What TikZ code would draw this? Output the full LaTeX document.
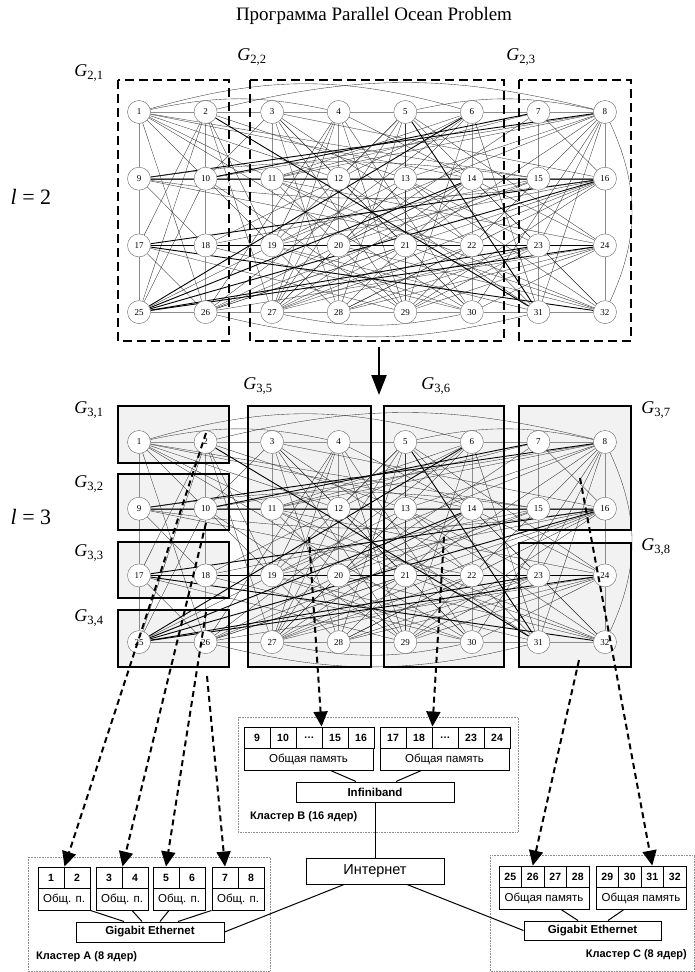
\documentclass[tikz,border=0pt]{standalone}
\usepackage{fontspec}
\setmainfont{Liberation Serif}
\setsansfont{Liberation Sans}
\usetikzlibrary{positioning, arrows.meta, calc}

\pgfdeclarelayer{boxfill}
\pgfdeclarelayer{edges}
\pgfsetlayers{boxfill,edges,main}

\tikzset{
    vtx/.style={circle, draw=black!60, fill=white, thin, minimum size=23pt, inner sep=0pt, font=\fontsize{9}{10}\selectfont},
    gridedge/.style={draw=black!45, line width=0.5pt},
    edge/.style={draw=black!80, line width=0.35pt},
    heavyedge/.style={draw=black, line width=0.9pt},
    partbox/.style={line width=1.4pt, dash pattern=on 9pt off 5pt},
    subbox/.style={draw, line width=1.5pt},
    glabel/.style={font=\fontsize{18}{21}\selectfont\itshape, inner sep=0pt},
    levellabel/.style={font=\fontsize{22}{26}\selectfont, inner sep=0pt},
    maparrow/.style={line width=2pt, dash pattern=on 6pt off 4pt, -{Triangle[length=15pt,width=14pt]}},
    cell/.style={draw, line width=0.9pt, minimum width=26pt, minimum height=21pt, inner sep=0pt, font=\sffamily\bfseries\fontsize{10.5}{12}\selectfont},
    mem/.style={draw, line width=0.9pt, minimum height=22pt, inner sep=0pt, font=\sffamily\fontsize{11.5}{13}\selectfont},
    netbox/.style={draw, line width=1pt, inner sep=0pt, font=\sffamily\bfseries\fontsize{11.5}{13}\selectfont},
    netline/.style={line width=1pt},
    cluster/.style={draw=black!45, densely dotted, line width=0.6pt},
    clabel/.style={font=\sffamily\bfseries\fontsize{11}{12}\selectfont, inner sep=0pt},
}

% long edges of the ocean grid
\newcommand\plainedges{1/12, 1/14, 1/21, 1/26, 1/28, 1/30, 1/15,
    2/17, 2/25, 2/27, 2/19, 2/13,
    3/10, 3/29, 3/28, 3/30, 3/21, 3/22, 3/16,
    4/19, 4/26, 4/29, 4/30, 4/27, 4/24,
    5/27, 5/28, 5/19, 5/29, 5/32, 5/24, 5/12,
    6/26, 6/27, 6/29, 6/31, 6/11, 6/18,
    7/11, 7/16, 7/20,
    8/10, 8/11, 8/13, 8/15, 8/23, 8/31, 8/19,
    9/18, 9/14, 9/22,
    10/25, 10/15, 10/29,
    11/24, 11/29, 11/32,
    12/27, 12/30, 12/16, 12/31,
    13/25, 13/27, 13/32, 13/23,
    14/27, 14/26, 14/32, 14/28,
    15/26, 15/20, 15/29,
    16/19, 16/28, 16/26, 16/27,
    17/26, 17/29, 17/23,
    18/15, 18/30, 18/22,
    19/24, 19/30, 19/31,
    20/32, 20/14,
    21/26, 21/32, 21/8, 21/27,
    22/27, 22/28,
    23/27, 23/29,
    24/26, 24/28, 24/29, 24/30,
    28/23, 29/16, 30/8, 31/13}
\newcommand\heavyedges{9/8, 10/7, 17/16, 25/24, 25/14, 25/23, 2/31, 17/32, 5/31, 6/25, 25/16, 17/24}

% #1 = name prefix, #2 = y of the first row
\newcommand\oceangraph[2]{%
    \foreach \n in {1,...,32} {
        \pgfmathtruncatemacro\gcol{mod(\n-1,8)}
        \pgfmathtruncatemacro\grow{(\n-1)/8}
        \node[vtx] (#1\n) at ({139+66.57*\gcol},{#2+66.7*\grow}) {\n};
    }
    \begin{pgfonlayer}{edges}
        \foreach \n in {1,...,32} {
            \pgfmathtruncatemacro\gcol{mod(\n-1,8)}
            \pgfmathtruncatemacro\nright{\n+1}
            \pgfmathtruncatemacro\ndown{\n+8}
            \ifnum\gcol<7 \draw[gridedge] (#1\n) -- (#1\nright);\fi
            \ifnum\n<25 \draw[gridedge] (#1\n) -- (#1\ndown);\fi
        }
        \foreach \u/\v in \plainedges {\draw[edge] (#1\u) -- (#1\v);}
        \foreach \u/\v in \heavyedges {\draw[heavyedge] (#1\u) -- (#1\v);}
        \draw[edge] (#11) to[bend left=16] (#16);
        \draw[edge] (#11) to[bend left=12] (#14);
        \draw[edge] (#12) to[bend left=14] (#18);
        \draw[edge] (#15) to[bend left=12] (#18);
        \draw[edge] (#18) to[bend left=25] (#132);
        \draw[edge] (#126) to[bend right=14] (#131);
        \draw[edge] (#127) to[bend right=12] (#130);
        \draw[edge] (#19) to[bend left=8] (#115);
        \draw[edge] (#19) to[bend right=8] (#116);
    \end{pgfonlayer}
}

\begin{document}
\begin{tikzpicture}[x=1pt, y=-1pt]
    \useasboundingbox (0,0) rectangle (695,972);

    \node[font=\fontsize{19}{22}\selectfont] (title) at (374,16) {Программа Parallel Ocean Problem};

    % level l = 2
    \node[levellabel] (lev2) at (31,197) {\textit{l} = 2};
    \oceangraph{a}{112}
    \draw[partbox] (118,80) rectangle (229,341);
    \draw[partbox] (250,80) rectangle (504,341);
    \draw[partbox] (519,80) rectangle (631,341);
    \node[glabel] (g21) at (89,73) {G\textsubscript{\upshape 2,1}};
    \node[glabel] (g22) at (252,57) {G\textsubscript{\upshape 2,2}};
    \node[glabel] (g23) at (521,57) {G\textsubscript{\upshape 2,3}};

    \coordinate (down1) at (379,347);
    \coordinate (down2) at (379,395);
    \draw[line width=2.2pt, -{Triangle[length=20pt,width=15pt]}] (down1) -- (down2);

    % level l = 3
    \node[levellabel] (lev3) at (31,517) {\textit{l} = 3};
    \foreach \xa/\ya/\xb/\yb in {118/406/229/463, 118/474/229/530, 118/542/229/598, 118/610/229/667,
        248/406/371/667, 384/406/504/667, 519/406/631/530, 519/543/631/667} {
        \begin{pgfonlayer}{boxfill}
            \fill[black!5] (\xa,\ya) rectangle (\xb,\yb);
        \end{pgfonlayer}
    }
    \oceangraph{b}{442}
    \foreach \xa/\ya/\xb/\yb in {118/406/229/463, 118/474/229/530, 118/542/229/598, 118/610/229/667,
        248/406/371/667, 384/406/504/667, 519/406/631/530, 519/543/631/667}
        \draw[subbox] (\xa,\ya) rectangle (\xb,\yb);
    \node[glabel] (g31) at (89,410) {G\textsubscript{\upshape 3,1}};
    \node[glabel] (g32) at (89,484) {G\textsubscript{\upshape 3,2}};
    \node[glabel] (g33) at (89,553) {G\textsubscript{\upshape 3,3}};
    \node[glabel] (g34) at (89,618) {G\textsubscript{\upshape 3,4}};
    \node[glabel] (g35) at (258,386) {G\textsubscript{\upshape 3,5}};
    \node[glabel] (g36) at (436,386) {G\textsubscript{\upshape 3,6}};
    \node[glabel] (g37) at (656,410) {G\textsubscript{\upshape 3,7}};
    \node[glabel] (g38) at (656,547) {G\textsubscript{\upshape 3,8}};

    % cluster B
    \draw[cluster] (238,717) rectangle (518,832);
    \foreach \t [count=\i] in {9,10,\ldots,15,16}
        \node[cell] (bl\i) at ({257+26*(\i-1)},737.5) {\t};
    \foreach \t [count=\i] in {17,18,\ldots,23,24}
        \node[cell] (br\i) at ({393+26*(\i-1)},737.5) {\t};
    \node[mem, minimum width=129pt] (blm) at (308.5,759) {Общая память};
    \node[mem, minimum width=129pt] (brm) at (444.5,759) {Общая память};
    \node[netbox, minimum width=158pt, minimum height=20pt] (ib) at (375,792) {Infiniband};
    \draw[netline] ([xshift=22pt]blm.south) -- ([xshift=-19pt]ib.north);
    \draw[netline] ([xshift=-23pt]brm.south) -- ([xshift=21pt]ib.north);
    \node[clabel, anchor=west] (labB) at (250,817) {Кластер B (16 ядер)};

    % internet
    \node[draw, line width=1pt, minimum width=138pt, minimum height=26pt,
        font=\sffamily\fontsize{14.5}{17}\selectfont] (inet) at (375,871) {Интернет};
    \draw[netline] (ib) -- (inet);

    % cluster A
    \draw[cluster] (28,857) rectangle (270,971);
    \foreach \l [count=\k] in {38,96,153,212} {
        \pgfmathtruncatemacro\lft{2*\k-1}
        \pgfmathtruncatemacro\rgt{2*\k}
        \node[cell] (ca\lft) at (\l+13,877.5) {\lft};
        \node[cell] (ca\rgt) at (\l+39,877.5) {\rgt};
        \node[mem, minimum width=52pt] (cam\k) at (\l+26,899) {Общ. п.};
    }
    \node[netbox, minimum width=148pt, minimum height=20pt] (gea) at (150,932) {Gigabit Ethernet};
    \draw[netline] (cam1.south east) -- ([xshift=-26pt]gea.north);
    \draw[netline] ([xshift=10pt]cam2.south) -- ([xshift=-8pt]gea.north);
    \draw[netline] ([xshift=-10pt]cam3.south) -- ([xshift=10pt]gea.north);
    \draw[netline] (cam4.south west) -- ([xshift=28pt]gea.north);
    \node[clabel, anchor=west] (labA) at (36,957) {Кластер A (8 ядер)};

    % cluster C
    \draw[cluster] (490,855) rectangle (694.5,971);
    \foreach \l/\s [count=\k] in {499/25, 596/29} {
        \foreach \j in {0,...,3} {
            \pgfmathtruncatemacro\num{\s+\j}
            \node[cell, minimum width=22.5pt] (cc\num) at ({\l+11.25+22.5*\j},876.5) {\num};
        }
        \node[mem, minimum width=90pt] (ccm\k) at (\l+45,898) {Общая память};
    }
    \node[netbox, minimum width=137pt, minimum height=19pt] (gec) at (592.5,930.5) {Gigabit Ethernet};
    \draw[netline] ([xshift=17pt]ccm1.south) -- ([xshift=-14.5pt]gec.north);
    \draw[netline] ([xshift=-17pt]ccm2.south) -- ([xshift=15.5pt]gec.north);
    \node[clabel, anchor=east] (labC) at (687,955) {Кластер C (8 ядер)};

    \draw[netline] ([xshift=-31pt]inet.south) -- (gea.east);
    \draw[netline] ([xshift=32pt]inet.south) -- (gec.west);

    % mapping of subgraphs onto cores
    \coordinate (s1) at (206,433);
    \coordinate (s2) at (206,523);
    \coordinate (s3) at (206,612);
    \coordinate (s4) at (207,676);
    \coordinate (s5) at (309,537);
    \coordinate (s6) at (444,537);
    \coordinate (s7) at (580,478);
    \coordinate (s8) at (579,660);
    \draw[maparrow] (s1) -- (ca1.north east);
    \draw[maparrow] (s2) -- (ca3.north east);
    \draw[maparrow] (s3) -- (ca5.north);
    \draw[maparrow] (s4) -- (ca7.north);
    \draw[maparrow] (s5) -- (bl4.north west);
    \draw[maparrow] (s6) -- (br2.north east);
    \draw[maparrow] (s7) -- (cc31.north);
    \draw[maparrow] (s8) -- (cc26.north);
\end{tikzpicture}
\end{document}
